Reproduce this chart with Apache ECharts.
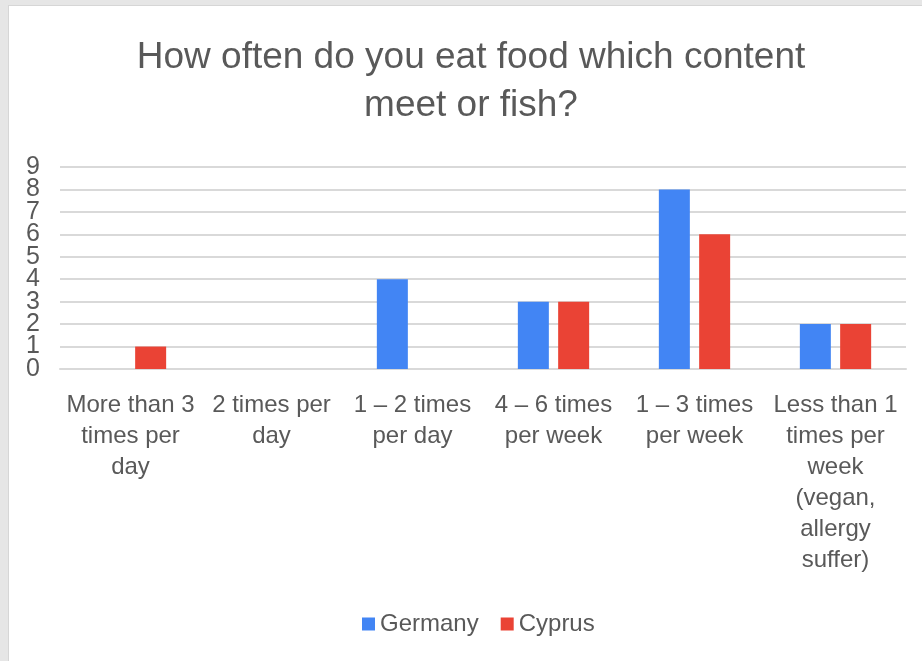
<!DOCTYPE html>
<html>
<head>
<meta charset="utf-8">
<script src="https://cdn.jsdelivr.net/npm/echarts@6/dist/echarts.min.js"></script>
<style>
  html, body { margin: 0; padding: 0; background: #e6e6e6; }
  #frame {
    position: absolute; left: 8px; top: 5px; width: 914px; height: 656px;
    background: #fff; border-left: 1px solid #d6d6d6; border-top: 1px solid #d6d6d6;
  }
  #chart { position: absolute; left: 0; top: 0; width: 922px; height: 661px; }
</style>
</head>
<body>
<div id="frame"></div>
<div id="chart"></div>
<script>
// categories (line breaks as in the picture)
const categories = [
  'More than 3\ntimes per\nday',
  '2 times per\nday',
  '1 – 2 times\nper day',
  '4 – 6 times\nper week',
  '1 – 3 times\nper week',
  'Less than 1\ntimes per\nweek\n(vegan,\nallergy\nsuffer)'
];
const germany = [0, 0, 4, 3, 8, 2];
const cyprus = [1, 0, 0, 3, 6, 2];
const yTicks = [0, 1, 2, 3, 4, 5, 6, 7, 8, 9];

const FONT = '"Liberation Sans", Arial, sans-serif';
const TXT = '#595959';

let chart = echarts.init(document.getElementById('chart'));

// labels are taller than the tick spacing, so split them over two
// overlaid axes or echarts drops some as overlapping
function labelAxis(values) {
  return {
    type: 'value',
    position: 'left',
    offset: 0,
    min: yTicks[0],
    max: yTicks[yTicks.length - 1],
    interval: 1,
    axisLine: { show: false },
    axisTick: { show: false },
    splitLine: { show: false },
    axisLabel: {
      customValues: values,
      margin: 20,
      fontFamily: FONT,
      fontSize: 25,
      color: TXT,
    },
  };
}

let option = {
  backgroundColor: 'transparent',
  textStyle: { fontFamily: FONT },
  title: {
    text: 'How often do you eat food which content\nmeet or fish?',
    left: 471,
    top: 34,
    padding: 0,
    textAlign: 'center',
    textStyle: {
      fontFamily: FONT,
      fontSize: 37,
      fontWeight: 'normal',
      color: TXT,
      lineHeight: 48,
    },
  },
  legend: {
    data: ['Germany', 'Cyprus'],
    left: 357,
    top: 607,
    icon: 'rect',
    itemWidth: 13,
    itemHeight: 13,
    itemGap: 22,
    textStyle: { fontFamily: FONT, fontSize: 24, color: TXT },
  },
  grid: {
    left: 60,
    right: 16,
    top: 167,
    bottom: 292,
  },
  xAxis: {
    type: 'category',
    data: categories,
    axisTick: { show: false },
    axisLine: { lineStyle: { color: '#d9d9d9', width: 2 } },
    axisLabel: {
      interval: 0,
      margin: 21,
      fontFamily: FONT,
      fontSize: 24,
      lineHeight: 31,
      color: TXT,
    },
  },
  yAxis: [
    {
      type: 'value',
      min: yTicks[0],
      max: yTicks[yTicks.length - 1],
      interval: 1,
      axisLine: { show: false },
      axisTick: { show: false },
      axisLabel: { show: false },
      splitLine: { lineStyle: { color: '#d9d9d9', width: 2 } },
    },
    labelAxis(yTicks.filter((v) => v % 2 === 0)),
    labelAxis(yTicks.filter((v) => v % 2 === 1)),
  ],
  series: [
    {
      name: 'Germany',
      type: 'bar',
      data: germany,
      barWidth: 31,
      barGap: '30%',
      itemStyle: { color: '#4285F4' },
    },
    {
      name: 'Cyprus',
      type: 'bar',
      data: cyprus,
      barWidth: 31,
      barGap: '30%',
      itemStyle: { color: '#EA4335' },
    },
  ],
};

chart.setOption(option);
</script>
</body>
</html>
